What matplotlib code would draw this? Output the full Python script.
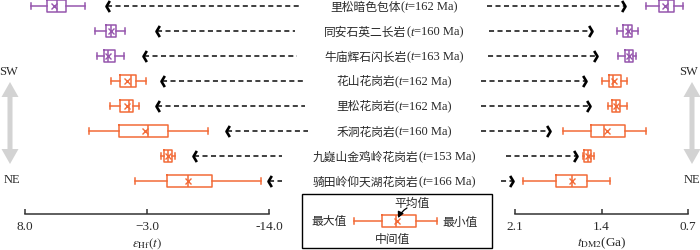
import matplotlib
matplotlib.use("Agg")
import matplotlib.pyplot as plt
from matplotlib.path import Path
from matplotlib.patches import Rectangle, FancyArrow
from matplotlib.offsetbox import TextArea, HPacker, AnnotationBbox

plt.rcParams['mathtext.fontset'] = 'stix'

# ---------------- data ----------------
rocks = ["里松暗色包体", "同安石英二长岩", "牛庙辉石闪长岩", "花山花岗岩",
         "里松花岗岩", "禾洞花岗岩", "九嶷山金鸡岭花岗岩", "骑田岭仰天湖花岗岩"]
ages = [162, 160, 163, 162, 162, 160, 153, 166]
groups = ["mafic", "mafic", "mafic", "granite", "granite", "granite", "granite", "granite"]

# eHf(t): min, q1, median, q3, max, mean
hf_whislo = [7.46, 1.69, 1.51, 0.25, 0.34, 2.23, -4.26, -1.92]
hf_q1     = [6.02, 0.70, 0.88, -0.57, -0.57, -0.48, -4.53, -4.80]
hf_med    = [5.11, 0.25, 0.52, -1.56, -1.38, -3.09, -4.89, -6.70]
hf_q3     = [4.30, -0.21, -0.07, -2.01, -1.74, -4.89, -5.26, -8.86]
hf_whishi = [2.59, -1.02, -0.93, -2.91, -2.28, -8.50, -5.53, -13.28]
hf_mean   = [5.38, 0.25, 0.52, -1.20, -1.20, -2.82, -4.89, -6.70]

# tDM2 (Ga)
dm_whislo = [1.04, 1.275, 1.267, 1.396, 1.348, 1.712, 1.55, 2.035]
dm_q1     = [0.935, 1.226, 1.21, 1.339, 1.315, 1.485, 1.542, 1.768]
dm_med    = [0.86, 1.186, 1.178, 1.307, 1.283, 1.38, 1.51, 1.639]
dm_q3     = [0.81, 1.153, 1.145, 1.242, 1.25, 1.21, 1.485, 1.517]
dm_whishi = [0.74, 1.105, 1.121, 1.194, 1.194, 1.04, 1.46, 1.331]
dm_mean   = [0.89, 1.186, 1.178, 1.30, 1.283, 1.356, 1.51, 1.639]

hf_ticks = [8.0, -3.0, -14.0]
hf_ticklabels = ["8.0", "\u22123.0", "-14.0"]
dm_ticks = [2.1, 1.4, 0.7]
dm_ticklabels = ["2.1", "1.4", "0.7"]

# ---------------- style / layout ----------------
COLORS = {"mafic": "#9656ad", "granite": "#f26b38"}
SERIF = "Liberation Serif"
CJK = "Noto Sans CJK SC"
TXT = "#2a2a2a"
W, H = 700, 251

# layout (pixels) for decorative arrows
left_arrows = [(106, 302), (156, 295), (143, 297), (161, 305), (156, 305), (226, 308), (193, 282), (268, 282)]
right_arrows = [(487, 625), (489, 592), (488, 597), (481, 586), (481, 590), (481, 550), (506, 577), (501, 513)]
label_x = 394

fig = plt.figure(figsize=(7.0, 2.51), dpi=100)

ylims = ((215 - 7) / 25, -7 / 25)


def row_px(i):
    return 7 + 25 * i


def make_axis(x0, width, xlim, ticks, ticklabels):
    ax = fig.add_axes([x0 / W, (H - 215) / H, width / W, 215 / H])
    ax.set_xlim(*xlim)
    ax.set_ylim(*ylims)
    ax.patch.set_visible(False)
    for s in ["top", "left", "right"]:
        ax.spines[s].set_visible(False)
    ax.spines["bottom"].set_color("#333333")
    ax.spines["bottom"].set_linewidth(1.1)
    ax.set_yticks([])
    ax.set_xticks(ticks)
    ax.set_xticklabels(ticklabels, fontfamily=SERIF, fontsize=9.5, color=TXT)
    ax.tick_params(axis="x", direction="in", length=3.5, width=1.1, color="#333333", pad=4)
    return ax


axL = make_axis(25, 244, (8.0, -14.0), hf_ticks, hf_ticklabels)
axR = make_axis(515, 173, (2.1, 0.7), dm_ticks, dm_ticklabels)

axL.set_xlabel(r"$\varepsilon_{\mathrm{Hf}}(t)$", fontsize=9.5, color=TXT)
axL.xaxis.set_label_coords(0.5, (215 - 244) / 215)
axL.xaxis.label.set_va("center")
axR.set_xlabel(r"$t_{\mathrm{DM2}}$(Ga)", fontfamily=SERIF, fontsize=9.5, color=TXT)
axR.xaxis.set_label_coords(0.5, (215 - 243) / 215)
axR.xaxis.label.set_va("center")


def draw_boxes(ax, lo, q1, med, q3, hi, mean, positions, color, widths=0.46, capw=0.24):
    stats = [dict(whislo=lo[i], q1=q1[i], med=med[i], q3=q3[i], whishi=hi[i],
                  mean=mean[i], fliers=[]) for i in range(len(lo))]
    lp = dict(color=color, linewidth=1.1)
    kw = dict(positions=positions, widths=widths, showmeans=True, manage_ticks=False,
              boxprops=lp, whiskerprops=lp, capprops=lp, medianprops=lp,
              meanprops=dict(marker="x", markersize=4, markeredgecolor=color,
                             markeredgewidth=1.0, linestyle="none"),
              capwidths=capw)
    try:
        arts = ax.bxp(stats, orientation="horizontal", **kw)
    except TypeError:
        arts = ax.bxp(stats, vert=False, **kw)
    for k, v in arts.items():
        for a in v:
            a.set_clip_on(False)


for ax, data in [(axL, (hf_whislo, hf_q1, hf_med, hf_q3, hf_whishi, hf_mean)),
                 (axR, (dm_whislo, dm_q1, dm_med, dm_q3, dm_whishi, dm_mean))]:
    for g in ["mafic", "granite"]:
        idx = [i for i, gg in enumerate(groups) if gg == g]
        sub = [[arr[i] for i in idx] for arr in data]
        draw_boxes(ax, *sub, positions=idx, color=COLORS[g])

# ---------------- overlay for arrows, labels, legend ----------------
ov = fig.add_axes([0, 0, 1, 1])
ov.set_xlim(0, W)
ov.set_ylim(H, 0)
ov.axis("off")
ov.patch.set_visible(False)

chev_left = Path([(0.6, 1.0), (0, 0), (0.6, -1.0)], [Path.MOVETO, Path.LINETO, Path.LINETO])
chev_right = Path([(-0.6, 1.0), (0, 0), (-0.6, -1.0)], [Path.MOVETO, Path.LINETO, Path.LINETO])
ACOL = "#303030"

for i in range(len(rocks)):
    y = row_px(i)
    tip, end = left_arrows[i]
    ov.plot([tip + 1, end], [y, y], color=ACOL, lw=1.3, dashes=(2.8, 1.9))
    ov.plot([tip], [y], marker=chev_left, markersize=8, markerfacecolor="none",
            markeredgecolor="black", markeredgewidth=1.9, linestyle="none")
    start, tip2 = right_arrows[i]
    ov.plot([start, tip2 - 1], [y, y], color=ACOL, lw=1.3, dashes=(2.8, 1.9))
    ov.plot([tip2], [y], marker=chev_right, markersize=8, markerfacecolor="none",
            markeredgecolor="black", markeredgewidth=1.9, linestyle="none")

    fs = 9
    parts = [TextArea(rocks[i], textprops=dict(fontfamily=CJK, fontsize=fs - 0.5, color=TXT)),
             TextArea("(", textprops=dict(fontfamily=SERIF, fontsize=fs, color=TXT)),
             TextArea("t", textprops=dict(fontfamily=SERIF, fontstyle="italic", fontsize=fs, color=TXT)),
             TextArea("=%d Ma)" % ages[i], textprops=dict(fontfamily=SERIF, fontsize=fs, color=TXT))]
    box = HPacker(children=parts, align="baseline", pad=0, sep=0)
    ab = AnnotationBbox(box, (label_x, y), xycoords="data", frameon=False,
                        box_alignment=(0.5, 0.5), pad=0)
    ov.add_artist(ab)

# SW / NE arrows
GRAY = "#d3d3d3"
for xc, sw_x, ne_x in [(10, 9, 12), (692, 689, 692)]:
    mid = 124
    ov.add_patch(FancyArrow(xc, mid, 0, -(mid - 83), width=5, head_width=17, head_length=15,
                            length_includes_head=True, color=GRAY, lw=0))
    ov.add_patch(FancyArrow(xc, mid, 0, (165 - mid), width=5, head_width=17, head_length=15,
                            length_includes_head=True, color=GRAY, lw=0))
    ov.text(sw_x, 72, "SW", fontfamily=SERIF, fontsize=9, color=TXT, ha="center", va="center")
    ov.text(ne_x, 180, "NE", fontfamily=SERIF, fontsize=9, color=TXT, ha="center", va="center")

# legend
ov.add_patch(Rectangle((302, 195), 190, 54, fill=False, edgecolor="black", lw=1.0))
leg_stats = [dict(whislo=354, q1=382, med=396, q3=416, whishi=437, mean=397, fliers=[])]
lp = dict(color=COLORS["granite"], linewidth=1.1)
lkw = dict(positions=[222], widths=12, showmeans=True, manage_ticks=False,
           boxprops=lp, whiskerprops=lp, capprops=lp, medianprops=lp, capwidths=6,
           meanprops=dict(marker="x", markersize=4, markeredgecolor=COLORS["granite"],
                          markeredgewidth=1.0, linestyle="none"))
try:
    ov.bxp(leg_stats, orientation="horizontal", **lkw)
except TypeError:
    ov.bxp(leg_stats, vert=False, **lkw)
ov.set_xlim(0, W)
ov.set_ylim(H, 0)
cjk_kw = dict(fontfamily=CJK, fontsize=8.5, color=TXT, ha="center", va="center")
ov.text(329, 222, "最大值", **cjk_kw)
ov.text(460, 222, "最小值", **cjk_kw)
ov.text(412, 203, "平均值", **cjk_kw)
ov.text(393, 240, "中间值", **cjk_kw)
ov.annotate("", xy=(398, 219), xytext=(407, 209),
            arrowprops=dict(arrowstyle="-|>,head_length=0.35,head_width=0.18", color="black",
                            lw=0.9, connectionstyle="arc3,rad=0.15", shrinkA=0, shrinkB=0))

fig.savefig("out.png", dpi=100)
